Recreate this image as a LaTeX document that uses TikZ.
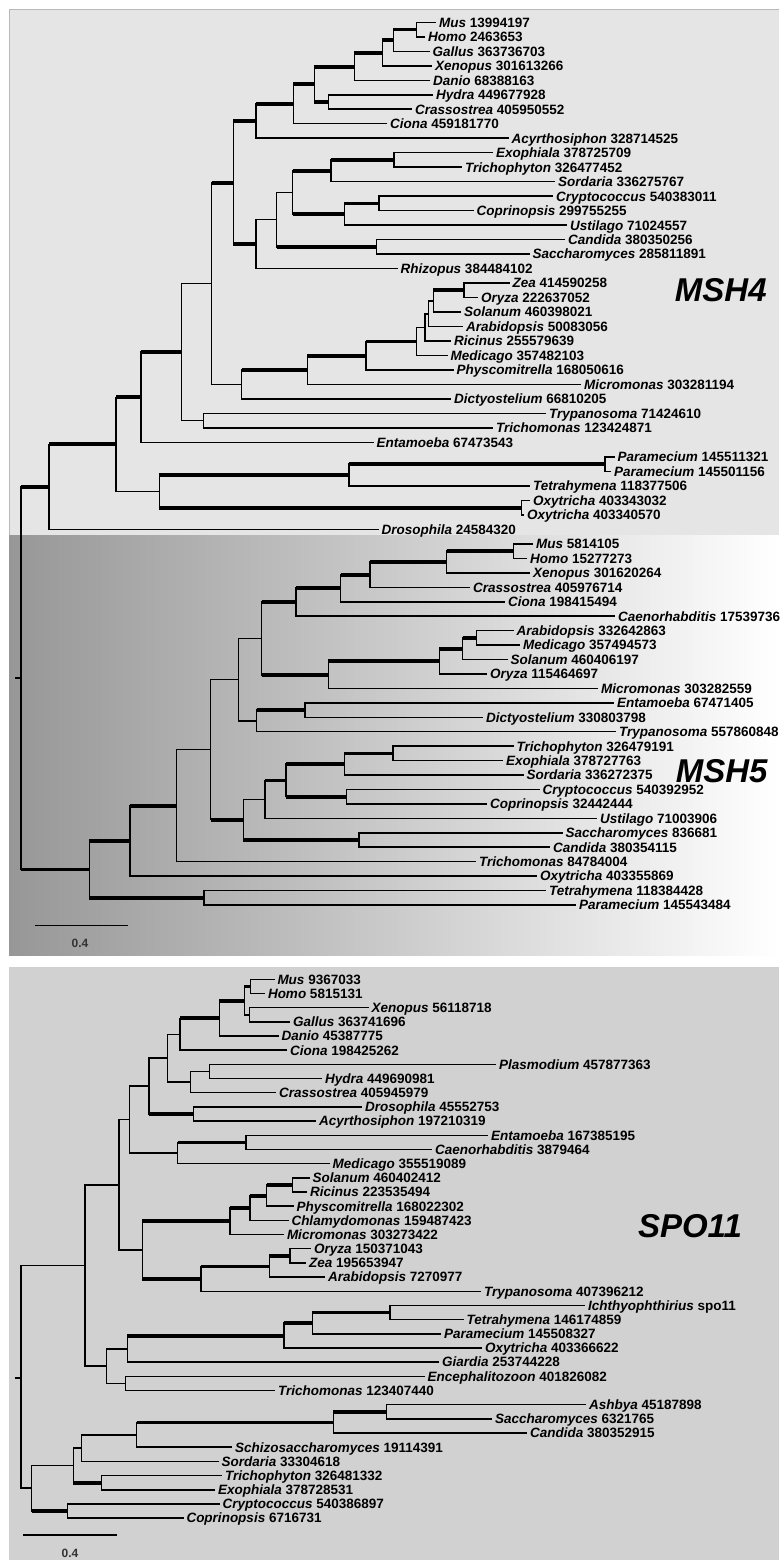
\documentclass[tikz,border=0pt]{standalone}
\usepackage{fontspec}
\setmainfont{Liberation Sans}
\definecolor{panelA}{HTML}{E5E5E5}
\definecolor{panelC}{HTML}{D1D1D1}
\definecolor{shadeL}{HTML}{979797}
\newcommand{\bthin}[2]{\draw[vbr] (#1) -- (#1 |- #2); \draw[hthin] (#1 |- #2) -- (#2);}
\newcommand{\bthick}[2]{\draw[vbr] (#1) -- (#1 |- #2); \draw[hthick] (#1 |- #2) -- (#2);}
\newcommand{\leafnode}[5]{\node[leaf] (#1) at (#2,#3) {\textit{#4} #5};}
\begin{document}
\begin{tikzpicture}[x=1pt,y=-1pt,
  vbr/.style={line width=1.5pt, line cap=rect},
  hthin/.style={line width=1.5pt},
  hthick/.style={line width=3.8pt},
  leaf/.style={anchor=west, inner xsep=3pt, inner ysep=0pt, outer sep=0pt, text height=9.7pt, text depth=0pt, font=\fontsize{13.5}{14}\selectfont\bfseries},
  gene/.style={font=\fontsize{33}{36}\selectfont\bfseries\itshape, inner sep=0pt, text height=23.6pt, text depth=0pt},
  scalelbl/.style={font=\fontsize{12}{12}\selectfont\bfseries, text=black!80, inner sep=0pt}]
\useasboundingbox (0,0) rectangle (779,1560);
\clip (0,0) rectangle (779,1560);
\fill[white] (0,0) rectangle (779,1560);
% panels
\fill[panelA] (9,9) rectangle (779,535);
\draw[gray!55, line width=0.8pt] (779,9) -- (9,9) -- (9,535) -- (779,535);
\shade[left color=shadeL, right color=white] (9,535.4) rectangle (779,955);
\fill[panelC] (9,967) rectangle (779,1560);

% ================= MSH4 =================
\leafnode{m4mus}{436}{22.3}{Mus}{13994197}
\leafnode{m4homo}{425}{36.8}{Homo}{2463653}
\leafnode{m4gallus}{429.5}{51.3}{Gallus}{363736703}
\leafnode{m4xen}{432}{65.8}{Xenopus}{301613266}
\leafnode{m4danio}{430}{80.3}{Danio}{68388163}
\leafnode{m4hydra}{433}{94.8}{Hydra}{449677928}
\leafnode{m4crass}{412}{109.2}{Crassostrea}{405950552}
\leafnode{m4ciona}{387}{123.7}{Ciona}{459181770}
\leafnode{m4acyr}{508.5}{138.2}{Acyrthosiphon}{328714525}
\leafnode{m4exo}{493}{152.7}{Exophiala}{378725709}
\leafnode{m4trich}{462}{167.2}{Trichophyton}{326477452}
\leafnode{m4sord}{555}{181.7}{Sordaria}{336275767}
\leafnode{m4crypt}{553}{196.2}{Cryptococcus}{540383011}
\leafnode{m4copr}{473.5}{210.7}{Coprinopsis}{299755255}
\leafnode{m4ust}{567}{225.2}{Ustilago}{71024557}
\leafnode{m4cand}{565}{239.6}{Candida}{380350256}
\leafnode{m4sacc}{529.5}{254.1}{Saccharomyces}{285811891}
\leafnode{m4rhiz}{397.5}{268.6}{Rhizopus}{384484102}
\leafnode{m4zea}{509.5}{283.1}{Zea}{414590258}
\leafnode{m4oryza}{478}{297.6}{Oryza}{222637052}
\leafnode{m4sol}{461}{312.1}{Solanum}{460398021}
\leafnode{m4arab}{463}{326.6}{Arabidopsis}{50083056}
\leafnode{m4ric}{451}{341.0}{Ricinus}{255579639}
\leafnode{m4med}{447.5}{355.5}{Medicago}{357482103}
\leafnode{m4phys}{453.5}{370.0}{Physcomitrella}{168050616}
\leafnode{m4micro}{581}{384.5}{Micromonas}{303281194}
\leafnode{m4dict}{451}{399.0}{Dictyostelium}{66810205}
\leafnode{m4tryp}{546}{413.5}{Trypanosoma}{71424610}
\leafnode{m4trim}{493}{428.0}{Trichomonas}{123424871}
\leafnode{m4ent}{373.5}{442.5}{Entamoeba}{67473543}
\leafnode{m4par1}{614.5}{457.0}{Paramecium}{145511321}
\leafnode{m4par2}{611}{471.4}{Paramecium}{145501156}
\leafnode{m4tet}{530}{485.9}{Tetrahymena}{118377506}
\leafnode{m4oxy1}{530}{500.4}{Oxytricha}{403343032}
\leafnode{m4oxy2}{524}{514.9}{Oxytricha}{403340570}
\leafnode{m4dros}{378.5}{529.4}{Drosophila}{24584320}

\coordinate (aMH) at (416.7,29.5);
\coordinate (aA) at (393.3,40.4);
\coordinate (aB) at (382.3,53.1);
\coordinate (aC) at (354.3,66.7);
\coordinate (aE) at (328.3,102);
\coordinate (aD) at (314.3,84.3);
\coordinate (aF) at (293.3,104);
\coordinate (aG) at (256,121.1);
\coordinate (aO) at (393.8,159.9);
\coordinate (aM) at (331,170.8);
\coordinate (aP) at (379,203.4);
\coordinate (aN) at (344.3,214.3);
\coordinate (aK) at (292.7,192.6);
\coordinate (aL) at (376.7,246.9);
\coordinate (aJ) at (276.7,219.7);
\coordinate (aI) at (256,244.1);
\coordinate (aH) at (233.3,182.6);
\coordinate (aZ) at (464,290.3);
\coordinate (aY) at (433.3,301.2);
\coordinate (aX) at (428.3,313.9);
\coordinate (aW) at (425,327.5);
\coordinate (aU) at (416.7,341.5);
\coordinate (aT) at (366,355.7);
\coordinate (aS) at (307.3,370.1);
\coordinate (aR) at (241.7,384.6);
\coordinate (aQ) at (211.7,283.6);
\coordinate (aAB) at (203.3,420.7);
\coordinate (aAA) at (181.7,352.2);
\coordinate (aAC) at (141,397.3);
\coordinate (aAH) at (605,464.2);
\coordinate (aAF) at (349,475.1);
\coordinate (aAG) at (521.7,507.7);
\coordinate (aAE) at (159.3,491.4);
\coordinate (aAD) at (116,444.3);
\coordinate (aAI) at (49,486.9);

\bthin{aMH}{m4mus} \bthin{aMH}{m4homo}
\bthick{aA}{aMH} \bthin{aA}{m4gallus}
\bthick{aB}{aA} \bthin{aB}{m4xen}
\bthick{aC}{aB} \bthin{aC}{m4danio}
\bthin{aE}{m4hydra} \bthin{aE}{m4crass}
\bthick{aD}{aC} \bthick{aD}{aE}
\bthick{aF}{aD} \bthin{aF}{m4ciona}
\bthick{aG}{aF} \bthin{aG}{m4acyr}
\bthin{aO}{m4exo} \bthin{aO}{m4trich}
\bthick{aM}{aO} \bthin{aM}{m4sord}
\bthin{aP}{m4crypt} \bthin{aP}{m4copr}
\bthick{aN}{aP} \bthin{aN}{m4ust}
\bthick{aK}{aM} \bthick{aK}{aN}
\bthin{aL}{m4cand} \bthin{aL}{m4sacc}
\bthin{aJ}{aK} \bthick{aJ}{aL}
\bthin{aI}{aJ} \bthin{aI}{m4rhiz}
\bthick{aH}{aG} \bthick{aH}{aI}
\bthin{aZ}{m4zea} \bthin{aZ}{m4oryza}
\bthick{aY}{aZ} \bthin{aY}{m4sol}
\bthin{aX}{aY} \bthin{aX}{m4arab}
\bthin{aW}{aX} \bthin{aW}{m4ric}
\bthin{aU}{aW} \bthin{aU}{m4med}
\bthick{aT}{aU} \bthin{aT}{m4phys}
\bthick{aS}{aT} \bthin{aS}{m4micro}
\bthick{aR}{aS} \bthin{aR}{m4dict}
\bthick{aQ}{aH} \bthin{aQ}{aR}
\bthin{aAB}{m4tryp} \bthin{aAB}{m4trim}
\bthin{aAA}{aQ} \bthin{aAA}{aAB}
\bthick{aAC}{aAA} \bthin{aAC}{m4ent}
\bthin{aAH}{m4par1} \bthin{aAH}{m4par2}
\bthick{aAF}{aAH} \bthin{aAF}{m4tet}
\bthin{aAG}{m4oxy1} \bthin{aAG}{m4oxy2}
\bthick{aAE}{aAF} \bthick{aAE}{aAG}
\bthick{aAD}{aAC} \bthin{aAD}{aAE}
\bthick{aAI}{aAD} \bthin{aAI}{m4dros}

\node[gene] (lblmsh4) at (720.8,290) {MSH4};

% ================= MSH5 =================
\leafnode{m5mus}{533}{544.0}{Mus}{5814105}
\leafnode{m5homo}{527}{558.4}{Homo}{15277273}
\leafnode{m5xen}{530}{572.9}{Xenopus}{301620264}
\leafnode{m5crass}{470}{587.3}{Crassostrea}{405976714}
\leafnode{m5ciona}{505}{601.8}{Ciona}{198415494}
\leafnode{m5caeno}{615}{616.2}{Caenorhabditis}{17539736}
\leafnode{m5arab}{513.5}{630.6}{Arabidopsis}{332642863}
\leafnode{m5med}{520}{645.1}{Medicago}{357494573}
\leafnode{m5sol}{507.5}{659.5}{Solanum}{460406197}
\leafnode{m5oryza}{487}{674.0}{Oryza}{115464697}
\leafnode{m5micro}{598}{688.4}{Micromonas}{303282559}
\leafnode{m5ent}{614}{702.8}{Entamoeba}{67471405}
\leafnode{m5dict}{483}{717.3}{Dictyostelium}{330803798}
\leafnode{m5tryp}{616}{731.7}{Trypanosoma}{557860848}
\leafnode{m5trich}{513.5}{746.2}{Trichophyton}{326479191}
\leafnode{m5exo}{503}{760.6}{Exophiala}{378727763}
\leafnode{m5sord}{523.5}{775.0}{Sordaria}{336272375}
\leafnode{m5crypt}{539.5}{789.5}{Cryptococcus}{540392952}
\leafnode{m5copr}{487}{803.9}{Coprinopsis}{32442444}
\leafnode{m5ust}{597}{818.4}{Ustilago}{71003906}
\leafnode{m5sacc}{562.5}{832.8}{Saccharomyces}{836681}
\leafnode{m5cand}{550}{847.2}{Candida}{380354115}
\leafnode{m5trim}{476}{861.7}{Trichomonas}{84784004}
\leafnode{m5oxy}{537}{876.1}{Oxytricha}{403355869}
\leafnode{m5tet}{546}{890.6}{Tetrahymena}{118384428}
\leafnode{m5par}{576}{905.0}{Paramecium}{145543484}

\coordinate (b1) at (513.3,551.2);
\coordinate (b2) at (446.7,562.1);
\coordinate (b3) at (370,574.7);
\coordinate (b4) at (340.7,588.2);
\coordinate (b5) at (296,602.2);
\coordinate (b6) at (476.7,637.9);
\coordinate (b7) at (462.7,648.7);
\coordinate (b8) at (439.3,661.3);
\coordinate (b9) at (328.3,674.9);
\coordinate (b10) at (261.7,638.5);
\coordinate (b11) at (305,710.1);
\coordinate (b12) at (256.7,720.9);
\coordinate (b13) at (238.3,679.7);
\coordinate (b14) at (393,753.4);
\coordinate (b15) at (344.3,764.2);
\coordinate (b16) at (346.7,796.7);
\coordinate (b17) at (286,780.5);
\coordinate (b18) at (265,799.4);
\coordinate (b19) at (359,840);
\coordinate (b20) at (243.3,819.7);
\coordinate (b21) at (210.7,749.7);
\coordinate (b22) at (176.7,805.7);
\coordinate (b23) at (130,840.9);
\coordinate (b24) at (204,897.8);
\coordinate (b25) at (89.3,869.4);

\bthin{b1}{m5mus} \bthin{b1}{m5homo}
\bthick{b2}{b1} \bthin{b2}{m5xen}
\bthick{b3}{b2} \bthin{b3}{m5crass}
\bthick{b4}{b3} \bthin{b4}{m5ciona}
\bthick{b5}{b4} \bthin{b5}{m5caeno}
\bthin{b6}{m5arab} \bthin{b6}{m5med}
\bthick{b7}{b6} \bthin{b7}{m5sol}
\bthick{b8}{b7} \bthin{b8}{m5oryza}
\bthick{b9}{b8} \bthin{b9}{m5micro}
\bthick{b10}{b5} \bthick{b10}{b9}
\bthin{b11}{m5ent} \bthin{b11}{m5dict}
\bthick{b12}{b11} \bthin{b12}{m5tryp}
\bthin{b13}{b10} \bthin{b13}{b12}
\bthin{b14}{m5trich} \bthin{b14}{m5exo}
\bthick{b15}{b14} \bthin{b15}{m5sord}
\bthin{b16}{m5crypt} \bthin{b16}{m5copr}
\bthick{b17}{b15} \bthick{b17}{b16}
\bthick{b18}{b17} \bthin{b18}{m5ust}
\bthin{b19}{m5sacc} \bthin{b19}{m5cand}
\bthin{b20}{b18} \bthick{b20}{b19}
\bthin{b21}{b13} \bthick{b21}{b20}
\bthin{b22}{b21} \bthin{b22}{m5trim}
\bthick{b23}{b22} \bthin{b23}{m5oxy}
\bthin{b24}{m5tet} \bthin{b24}{m5par}
\bthick{b25}{b23} \bthick{b25}{b24}

% common root of MSH4 and MSH5
\coordinate (rootA) at (21,678);
\coordinate (rootAstub) at (15,678);
\bthick{rootA}{aAI} \bthick{rootA}{b25}
\draw[hthin] (rootAstub) -- (rootA);

\node[gene] (lblmsh5) at (721.7,771) {MSH5};
\coordinate (sb5a) at (35,925.7);
\coordinate (sb5b) at (128.3,925.7);
\draw[hthin] (sb5a) -- (sb5b);
\node[scalelbl] (sb5l) at (80,943) {0.4};

% ================= SPO11 =================
\leafnode{s1}{274.5}{979.3}{Mus}{9367033}
\leafnode{s2}{265}{993.5}{Homo}{5815131}
\leafnode{s3}{368.5}{1007.7}{Xenopus}{56118718}
\leafnode{s4}{290}{1021.8}{Gallus}{363741696}
\leafnode{s5}{278.5}{1036.0}{Danio}{45387775}
\leafnode{s6}{287}{1050.2}{Ciona}{198425262}
\leafnode{s7}{496}{1064.4}{Plasmodium}{457877363}
\leafnode{s8}{322}{1078.6}{Hydra}{449690981}
\leafnode{s9}{276}{1092.7}{Crassostrea}{405945979}
\leafnode{s10}{362}{1106.9}{Drosophila}{45552753}
\leafnode{s11}{316}{1121.1}{Acyrthosiphon}{197210319}
\leafnode{s12}{488}{1135.3}{Entamoeba}{167385195}
\leafnode{s13}{432}{1149.5}{Caenorhabditis}{3879464}
\leafnode{s14}{329.5}{1163.6}{Medicago}{355519089}
\leafnode{s15}{309.5}{1177.8}{Solanum}{460402412}
\leafnode{s16}{307}{1192.0}{Ricinus}{223535494}
\leafnode{s17}{293.5}{1206.2}{Physcomitrella}{168022302}
\leafnode{s18}{288.5}{1220.4}{Chlamydomonas}{159487423}
\leafnode{s19}{284}{1234.5}{Micromonas}{303273422}
\leafnode{s20}{311}{1248.7}{Oryza}{150371043}
\leafnode{s21}{306}{1262.9}{Zea}{195653947}
\leafnode{s22}{325}{1277.1}{Arabidopsis}{7270977}
\leafnode{s23}{481}{1291.3}{Trypanosoma}{407396212}
\leafnode{s24}{585}{1305.4}{Ichthyophthirius}{spo11}
\leafnode{s25}{463.5}{1319.6}{Tetrahymena}{146174859}
\leafnode{s26}{441}{1333.8}{Paramecium}{145508327}
\leafnode{s27}{482}{1348.0}{Oxytricha}{403366622}
\leafnode{s28}{439}{1362.1}{Giardia}{253744228}
\leafnode{s29}{424.5}{1376.3}{Encephalitozoon}{401826082}
\leafnode{s30}{275}{1390.5}{Trichomonas}{123407440}
\leafnode{s31}{586}{1404.7}{Ashbya}{45187898}
\leafnode{s32}{492}{1418.9}{Saccharomyces}{6321765}
\leafnode{s33}{527}{1433.0}{Candida}{380352915}
\leafnode{s34}{232}{1447.2}{Schizosaccharomyces}{19114391}
\leafnode{s35}{218.5}{1461.4}{Sordaria}{33304618}
\leafnode{s36}{222}{1475.6}{Trichophyton}{326481332}
\leafnode{s37}{215}{1489.8}{Exophiala}{378728531}
\leafnode{s38}{219.5}{1503.9}{Cryptococcus}{540386897}
\leafnode{s39}{183.5}{1518.1}{Coprinopsis}{6716731}

\coordinate (c1) at (250.7,986.4);
\coordinate (c2) at (249.3,1014.8);
\coordinate (c3) at (244.3,1000.6);
\coordinate (c4) at (219.3,1018.3);
\coordinate (c5) at (180,1034.3);
\coordinate (c6) at (209.3,1071.5);
\coordinate (c7) at (190.7,1082.1);
\coordinate (c8) at (167.7,1058.2);
\coordinate (c9) at (193.3,1114);
\coordinate (c10) at (149,1086.1);
\coordinate (c11) at (246,1142.4);
\coordinate (c12) at (177.7,1153);
\coordinate (c13) at (129.3,1119.6);
\coordinate (c14) at (292.3,1184.9);
\coordinate (c15) at (266.7,1195.6);
\coordinate (c16) at (250,1208);
\coordinate (c17) at (230,1221.3);
\coordinate (c18) at (290,1255.8);
\coordinate (c19) at (269.3,1266.5);
\coordinate (c20) at (201,1278.9);
\coordinate (c21) at (142.3,1250.1);
\coordinate (c22) at (119,1184.9);
\coordinate (c23) at (390,1312.5);
\coordinate (c24) at (312.3,1323.2);
\coordinate (c25) at (284,1335.6);
\coordinate (c26) at (127.3,1348.9);
\coordinate (c27) at (125.7,1383.4);
\coordinate (c28) at (106.7,1366.1);
\coordinate (c29) at (85,1265.7);
\coordinate (c30) at (386.5,1411.8);
\coordinate (c31) at (333.3,1422.4);
\coordinate (c32) at (136.7,1434.8);
\coordinate (c33) at (81.7,1448.1);
\coordinate (c34) at (101.7,1482.7);
\coordinate (c35) at (73.3,1465.4);
\coordinate (c36) at (67.7,1511);
\coordinate (c37) at (31.7,1488.2);
\coordinate (c38) at (21,1378);
\coordinate (c38stub) at (15,1378);

\bthin{c1}{s1} \bthin{c1}{s2}
\bthin{c2}{s3} \bthin{c2}{s4}
\bthick{c3}{c1} \bthin{c3}{c2}
\bthick{c4}{c3} \bthin{c4}{s5}
\bthick{c5}{c4} \bthin{c5}{s6}
\bthin{c6}{s7} \bthin{c6}{s8}
\bthin{c7}{c6} \bthin{c7}{s9}
\bthin{c8}{c5} \bthin{c8}{c7}
\bthin{c9}{s10} \bthin{c9}{s11}
\bthin{c10}{c8} \bthick{c10}{c9}
\bthin{c11}{s12} \bthin{c11}{s13}
\bthick{c12}{c11} \bthin{c12}{s14}
\bthin{c13}{c10} \bthin{c13}{c12}
\bthin{c14}{s15} \bthin{c14}{s16}
\bthick{c15}{c14} \bthin{c15}{s17}
\bthick{c16}{c15} \bthin{c16}{s18}
\bthick{c17}{c16} \bthin{c17}{s19}
\bthin{c18}{s20} \bthin{c18}{s21}
\bthick{c19}{c18} \bthin{c19}{s22}
\bthick{c20}{c19} \bthin{c20}{s23}
\bthick{c21}{c17} \bthick{c21}{c20}
\bthin{c22}{c13} \bthin{c22}{c21}
\bthin{c23}{s24} \bthin{c23}{s25}
\bthick{c24}{c23} \bthin{c24}{s26}
\bthick{c25}{c24} \bthin{c25}{s27}
\bthick{c26}{c25} \bthin{c26}{s28}
\bthin{c27}{s29} \bthin{c27}{s30}
\bthin{c28}{c26} \bthin{c28}{c27}
\bthin{c29}{c22} \bthin{c29}{c28}
\bthin{c30}{s31} \bthin{c30}{s32}
\bthick{c31}{c30} \bthin{c31}{s33}
\bthick{c32}{c31} \bthin{c32}{s34}
\bthin{c33}{c32} \bthin{c33}{s35}
\bthin{c34}{s36} \bthin{c34}{s37}
\bthin{c35}{c33} \bthick{c35}{c34}
\bthin{c36}{s38} \bthin{c36}{s39}
\bthin{c37}{c35} \bthick{c37}{c36}
\bthin{c38}{c29} \bthin{c38}{c37}
\draw[hthin] (c38stub) -- (c38);

\node[gene] (lblspo) at (690,1226) {SPO11};
\coordinate (sbSa) at (23.3,1535);
\coordinate (sbSb) at (116.7,1535);
\draw[hthin] (sbSa) -- (sbSb);
\node[scalelbl] (sbSl) at (70,1553) {0.4};
\end{tikzpicture}
\end{document}
